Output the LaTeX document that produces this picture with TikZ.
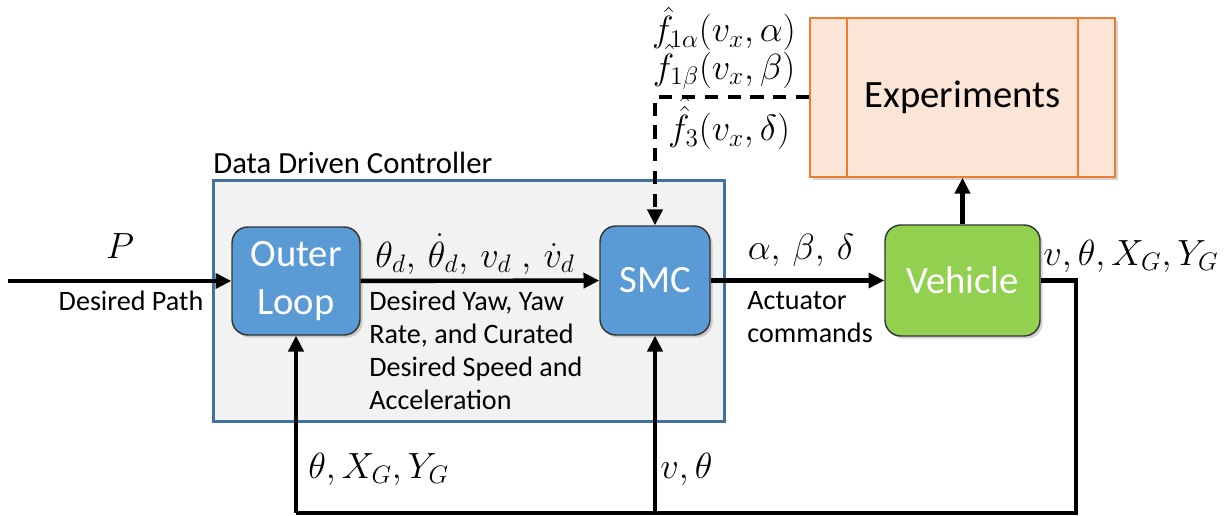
\documentclass[tikz,border=0pt]{standalone}
\usepackage{amsmath}
\usepackage{fontspec}
\setmainfont{Carlito}
\usetikzlibrary{calc,arrows.meta,shadows,positioning}
\definecolor{cCtrl}{HTML}{F2F2F2}
\definecolor{cCtrlLine}{HTML}{41719C}
\definecolor{cBlk}{HTML}{5B9BD5}
\definecolor{cVeh}{HTML}{92D050}
\definecolor{cExp}{HTML}{FBE5D6}
\definecolor{cExpLine}{HTML}{ED7D31}
\tikzset{
  ctrl/.style={rectangle,fill=cCtrl,draw=cCtrlLine,line width=1.7pt,inner sep=0pt},
  blk/.style={rectangle,rounded corners=9pt,fill=cBlk,draw=black!80,line width=.8pt,inner sep=0pt,
    align=center,text=white,font=\fontsize{22}{26}\selectfont,
    drop shadow={opacity=.35,shadow xshift=1.5pt,shadow yshift=-1.5pt}},
  veh/.style={blk,fill=cVeh},
  expbox/.style={rectangle,fill=cExp,draw=cExpLine,line width=.9pt,inner sep=0pt,
    font=\fontsize{22}{26}\selectfont,
    drop shadow={opacity=.35,shadow xshift=1.5pt,shadow yshift=-1.5pt}},
  lbl/.style={font=\fontsize{16}{18.5}\selectfont,inner sep=0pt},
  ttl/.style={font=\fontsize{17.5}{20}\selectfont,inner sep=0pt},
  mth/.style={font=\fontsize{20}{24}\selectfont,inner sep=0pt},
  sig/.style={-{Triangle[length=9pt,width=8.5pt]},line width=2.5pt},
  fb/.style={line width=2.5pt},
  est/.style={-{Triangle[length=9pt,width=8.5pt]},line width=2.5pt,dash pattern=on 7.5pt off 5.5pt},
}
\begin{document}
\begin{tikzpicture}[x=0.02cm,y=-0.02cm]
  \useasboundingbox (0,0) rectangle (1229,516);
  % controller frame
  \node[ctrl,minimum width=10.24cm,minimum height=4.84cm] (ctrl) at (469,301) {};
  \node[ttl,anchor=west] (ctrllbl) at (213,163) {Data Driven Controller};
  % blocks
  \node[blk,minimum width=2.56cm,minimum height=2.16cm] (outer) at (296,281) {Outer\\[1pt]Loop};
  \node[blk,minimum width=2.2cm,minimum height=2.18cm] (smc) at (655,280.5) {SMC};
  \node[veh,minimum width=3.1cm,minimum height=2.22cm] (veh) at (962.5,280.5) {Vehicle};
  \node[expbox,minimum width=6.1cm,minimum height=3.18cm] (exp) at (962.5,97.5) {Experiments};
  \draw[cExpLine,line width=.9pt] ($(exp.north west)+(38,0)$) -- ($(exp.south west)+(38,0)$)
    ($(exp.north east)+(-38,0)$) -- ($(exp.south east)+(-38,0)$);
  % forward path
  \coordinate (in) at (8,281);
  \draw[sig] (in) -- (outer);
  \node[mth] (plbl) at (120,246) {$P$};
  \node[lbl] (pathlbl) at (131,301) {Desired Path};
  \draw[sig] (outer) -- (smc);
  \node[mth] (reflbl) at (475,254) {$\theta_d,\,\dot{\theta}_d,\,v_d\;,\,\dot{v}_d$};
  \node[lbl,anchor=north west,align=left] (refdesc) at (369,291)
    {Desired Yaw, Yaw\\[.3pt]Rate, and Curated\\[.3pt]Desired Speed and\\[.3pt]Acceleration};
  \draw[sig] (smc) -- (veh);
  \node[mth] (ulbl) at (801,250) {$\alpha,\,\beta,\,\delta$};
  \node[lbl,anchor=north west,align=left] (udesc) at (747,291) {Actuator\\[.3pt]commands};
  \draw[sig] (veh) -- (exp);
  % feedback
  \coordinate (fbR) at (1076,280.5);
  \coordinate (fbB) at (1076,513);
  \coordinate (fbS) at (655,513);
  \coordinate (fbO) at (296,513);
  \draw[fb] (veh.east) -- (fbR) -- (fbB) -- (fbO);
  \draw[sig] (fbO) -- (outer);
  \draw[sig] (fbS) -- (smc);
  \node[mth,anchor=west] (ylbl) at (1043,256) {$v,\theta,X_G,Y_G$};
  \node[mth,anchor=west] (olbl) at (308,469) {$\theta,X_G,Y_G$};
  \node[mth,anchor=west] (slbl) at (660,469) {$v,\theta$};
  % estimated maps from experiments
  \coordinate (estC) at (655,97);
  \draw[est] (exp.west |- estC) -- (estC) -- (smc);
  \node[mth] (f1a) at (724,29) {$\hat{f}_{1\alpha}(v_x,\alpha)$};
  \node[mth] (f1b) at (724,67) {$\hat{f}_{1\beta}(v_x,\beta)$};
  \node[mth] (f3) at (729,123) {$\hat{\hat{f}}_3(v_x,\delta)$};
\end{tikzpicture}
\end{document}
